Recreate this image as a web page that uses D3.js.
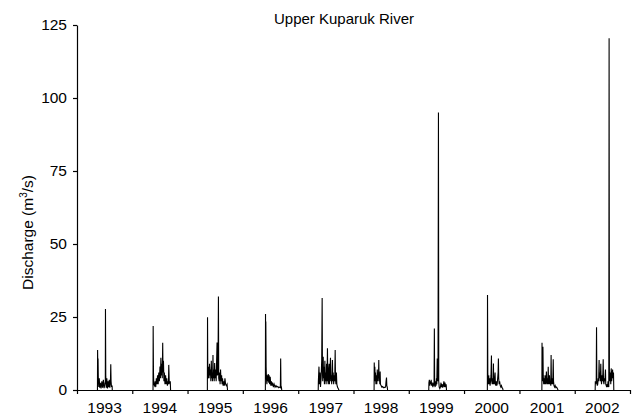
<!DOCTYPE html>
<html>
<head>
<meta charset="utf-8">
<script src="https://cdn.jsdelivr.net/npm/d3@7"></script>
<style>
    body { margin: 0; background: #fff; }
    text { font-family: "Liberation Sans", Arial, sans-serif; fill: #000; }
</style>
</head>
<body>
<div id="chart"></div>
<script>
// daily discharge, summer seasons only: [day of year, m3/s]
let q1993 = [[136,0],[137,13.7],[139,5],[140,10.8],[142,3],[145,1],[148,4],[151,0.8],[155,2.5],[160,0.5],[165,3],[170,0.8],[175,3.5],[180,0.6],[185,2],[188,3],[189,27.7],[191,5],[194,0.8],[198,4],[202,0.5],[206,3],[210,1],[214,3.5],[218,0.8],[222,3],[224,8.8],[226,3],[229,1],[233,1.5],[234,0]];
let q1994 = [[138,0],[139,21.9],[141,6],[143,2],[148,1.5],[152,3],[156,1],[160,4],[164,2],[168,5],[172,2],[176,6],[180,3],[184,8],[187,4],[190,11],[193,5],[196,9],[199,4],[202,16.2],[204,6],[207,10],[210,3],[213,6],[217,2],[221,5],[225,2],[229,4],[233,1.5],[237,3],[240,2],[242,8.6],[245,3],[249,2],[252,3],[254,0]];
let q1995 = [[132,0],[133,24.9],[135,4],[138,5],[141,8],[143,4],[146,9],[149,5],[152,7],[155,3],[158,10],[160,4],[163,6],[166,3],[169,12],[171,4],[174,7],[177,3],[180,9.2],[183,4],[186,7],[190,3],[193,10],[196,16.3],[198,5],[202,6],[205,32],[207,4],[210,3],[213,6],[216,2],[219,7],[222,3],[226,5],[229,2],[232,4],[236,1.5],[240,3],[244,1.5],[248,4],[252,2],[257,1.5],[262,2],[265,0]];
let q1996 = [[150,0],[151,26],[152,12],[153,23.5],[155,8],[157,4],[160,2],[163,5],[166,3],[169,5.5],[172,2.5],[175,5],[178,2],[182,4.5],[186,1.5],[190,3],[194,1.5],[198,2.5],[203,1],[208,2],[214,1],[220,1.5],[226,1],[232,1.2],[238,0.8],[244,1],[249,0.8],[251,10.8],[253,1.5],[256,1],[258,0]];
let q1997 = [[133,0],[134,3],[138,8],[141,2],[145,6],[148,1],[152,4],[156,10],[159,31.5],[161,6],[163,3],[166,11.4],[168,4],[171,8],[174,2],[177,10],[179,3],[182,6],[185,2],[188,9],[191,3],[194,14.3],[196,5],[199,2],[202,7],[205,9],[207,2],[210,6],[214,11],[216,3],[219,5],[222,2],[225,7],[227,10.3],[229,3],[232,6],[235,2],[239,5],[242,3],[245,13.7],[247,4],[250,2],[253,6],[256,2],[260,1],[265,0.5],[270,0]];
let q1998 = [[137,0],[138,9.4],[140,4],[142,8],[144,3],[146,6],[149,2],[152,5],[155,2],[158,7],[161,3],[164,6],[166,4],[168,10.3],[170,3],[173,4],[175,2],[177,6.3],[179,2],[183,1.5],[188,1],[193,1.2],[198,0.8],[203,1],[208,0.8],[213,1],[216,3],[219,4.3],[221,1.5],[224,1],[226,0]];
let q1999 = [[133,0],[134,2.5],[137,3.5],[140,1.5],[143,3],[146,2],[149,3.5],[152,1.5],[156,2.5],[160,1],[164,2],[168,1.5],[170,21.1],[172,2],[175,1],[178,3],[181,1.5],[184,4],[186,2],[189,10.8],[191,6],[194,3],[197,95],[199,3],[202,1],[206,0.5],[210,1],[214,2.5],[217,1],[221,2],[225,0.8],[229,1.5],[233,3],[236,1],[240,2.5],[244,1],[248,2],[250,0]];
let q2000 = [[155,0],[156,32.5],[158,6],[160,3],[162,2],[164,5],[167,2],[170,4],[173,1.5],[176,3],[179,5],[182,11.8],[184,3],[187,2],[190,4],[193,2],[195,9.1],[197,3],[200,2],[203,4],[206,6],[208,2],[211,1.5],[214,3],[217,1.5],[220,2],[223,4],[226,6],[228,10.8],[230,4],[233,2],[236,3],[240,1.5],[244,1],[248,1.5],[252,0.8],[256,0.5],[259,0]];
let q2001 = [[149,0],[150,16.2],[152,4],[154,3],[156,14.8],[158,5],[161,2],[164,4],[167,2],[170,5],[173,2],[176,3],[179,6.3],[182,2],[185,4],[188,2],[191,8],[193,3],[196,2],[199,5],[202,2],[205,3],[208,1.5],[210,12],[212,3],[215,2],[218,4],[221,2],[224,10.5],[226,3],[229,1.5],[233,1],[237,1.5],[241,0.8],[246,1],[251,0.5],[256,0]];
let q2002 = [[136,0],[137,3],[140,2],[143,3],[145,21.5],[147,3],[150,1.5],[153,2],[156,4],[159,3],[162,10.3],[164,4],[167,6],[170,3],[173,9],[175,4],[178,2],[181,5],[184,3],[187,6],[189,10.5],[191,3],[194,2],[197,4],[200,3],[204,7],[206,2],[209,1.5],[212,1],[215,2],[218,1],[221,3],[224,2],[226,1],[228,120.5],[230,5],[233,3],[236,6],[239,2],[242,7.4],[245,3],[248,5],[251,7],[254,4],[257,6],[259,0]];

let years = [1993, 1994, 1995, 1996, 1997, 1998, 1999, 2000, 2001, 2002];
let seasons = [q1993, q1994, q1995, q1996, q1997, q1998, q1999, q2000, q2001, q2002];
let yTicks = [0, 25, 50, 75, 100, 125];

let width = 632, height = 416;
let margin = { top: 25, right: 2, bottom: 26, left: 77 };

let svg = d3.select("#chart").append("svg")
    .attr("width", width)
    .attr("height", height);

let x = d3.scaleUtc()
    .domain([new Date(Date.UTC(1993, 0, 1)), new Date(Date.UTC(2003, 0, 1))])
    .range([margin.left, width - margin.right]);

let y = d3.scaleLinear()
    .domain([0, 125])
    .range([height - margin.bottom, margin.top]);

// day of year -> date
function toDate(year, day) {
    return new Date(Date.UTC(year, 0, day));
}

let line = d3.line()
    .x(d => x(toDate(d.year, d.day)))
    .y(d => y(d.q));

// one path per season
seasons.forEach(function (s, i) {
    let pts = s.map(d => ({ year: years[i], day: d[0], q: d[1] }));
    svg.append("path")
        .datum(pts)
        .attr("d", line)
        .style("fill", "none")
        .style("stroke", "#000")
        .style("stroke-width", 1.1);
});

// y axis
let yAxis = svg.append("g")
    .attr("transform", "translate(" + margin.left + ",0)")
    .call(d3.axisLeft(y).tickValues(yTicks).tickSize(4).tickSizeOuter(0));
yAxis.selectAll("text").style("font-size", "15.5px").attr("x", -10);

// x axis, ticks on year boundaries, labels mid-year
let boundaries = years.concat([2003]).map(yr => new Date(Date.UTC(yr, 0, 1)));
let xAxis = svg.append("g")
    .attr("transform", "translate(0," + (height - margin.bottom) + ")")
    .call(d3.axisBottom(x).tickValues(boundaries).tickFormat("").tickSize(4).tickSizeOuter(0));

svg.selectAll(".domain, .tick line").style("stroke", "#000").style("stroke-width", 1.2);

svg.selectAll(".yearLabel")
    .data(years)
    .enter()
    .append("text")
    .attr("class", "yearLabel")
    .attr("x", d => x(new Date(Date.UTC(d, 6, 2))))
    .attr("y", height - 3)
    .attr("text-anchor", "middle")
    .style("font-size", "15.5px")
    .text(d => d);

// axis title
let yLabel = svg.append("text")
    .attr("transform", "translate(33," + (margin.top + (height - margin.bottom - margin.top) / 2 + 25) + ") rotate(-90)")
    .attr("text-anchor", "middle")
    .style("font-size", "15.5px");
yLabel.append("tspan").text("Discharge (m");
yLabel.append("tspan").text("3").attr("dy", -6).style("font-size", "10px");
yLabel.append("tspan").text("/s)").attr("dy", 6);

// chart title
svg.append("text")
    .attr("x", 344)
    .attr("y", 24)
    .attr("text-anchor", "middle")
    .style("font-size", "15px")
    .text("Upper Kuparuk River");
</script>
</body>
</html>
